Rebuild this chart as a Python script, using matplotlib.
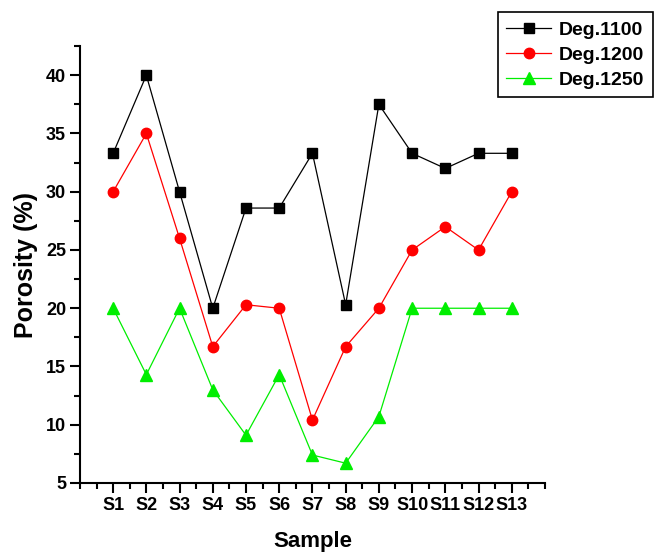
import matplotlib
matplotlib.use("Agg")
import matplotlib.pyplot as plt
from matplotlib.ticker import MultipleLocator

samples = ["S1", "S2", "S3", "S4", "S5", "S6", "S7", "S8", "S9", "S10", "S11", "S12", "S13"]
deg1100 = [33.3, 40, 30, 20, 28.6, 28.6, 33.3, 20.3, 37.5, 33.3, 32, 33.3, 33.3]
deg1200 = [30, 35, 26, 16.7, 20.3, 20, 10.4, 16.7, 20, 25, 27, 25, 30]
deg1250 = [20, 14.3, 20, 13, 9.1, 14.3, 7.4, 6.7, 10.7, 20, 20, 20, 20]

plt.rcParams['font.family'] = ['Liberation Sans', 'DejaVu Sans']
plt.rcParams['font.weight'] = 'bold'

fig = plt.figure(figsize=(6.55, 5.53), dpi=100)
ax = fig.add_axes([0.122, 0.1266, 0.71, 0.79])

x = list(range(1, len(samples) + 1))
l1, = ax.plot(x, deg1100, color='black', lw=0.9, marker='s', ms=6.8, label='Deg.1100')
l2, = ax.plot(x, deg1200, color='red', lw=0.9, marker='o', ms=7.5, label='Deg.1200')
l3, = ax.plot(x, deg1250, color='#00ee00', lw=0.9, marker='^', ms=8.5, label='Deg.1250')

ax.set_xlim(0, 14)
ax.set_ylim(5, 42.5)
ax.set_xticks(x)
ax.set_xticklabels(samples)
ax.xaxis.set_minor_locator(MultipleLocator(0.5))
ax.yaxis.set_major_locator(MultipleLocator(5))
ax.yaxis.set_minor_locator(MultipleLocator(2.5))

for s in ['top', 'right']:
    ax.spines[s].set_visible(False)
for s in ['left', 'bottom']:
    ax.spines[s].set_linewidth(1.5)

ax.tick_params(which='major', direction='out', length=7, width=1.5, labelsize=13, pad=3)
ax.tick_params(which='minor', direction='out', length=4, width=1.5)
for lab in ax.get_xticklabels() + ax.get_yticklabels():
    lab.set_fontweight('bold')

ax.set_xlabel('Sample', fontsize=16, fontweight='bold', labelpad=12)
ax.set_ylabel('Porosity (%)', fontsize=18, fontweight='bold', labelpad=6)

leg = fig.legend(handles=[l1, l2, l3], loc='upper right', bbox_to_anchor=(0.997, 0.978),
                 prop={'weight': 'bold', 'size': 14}, fancybox=False, framealpha=1,
                 edgecolor='black', handlelength=2.3, handletextpad=0.4,
                 borderpad=0.45, labelspacing=0.38, borderaxespad=0)
leg.get_frame().set_linewidth(1.2)

fig.savefig('out.png', dpi=100)
